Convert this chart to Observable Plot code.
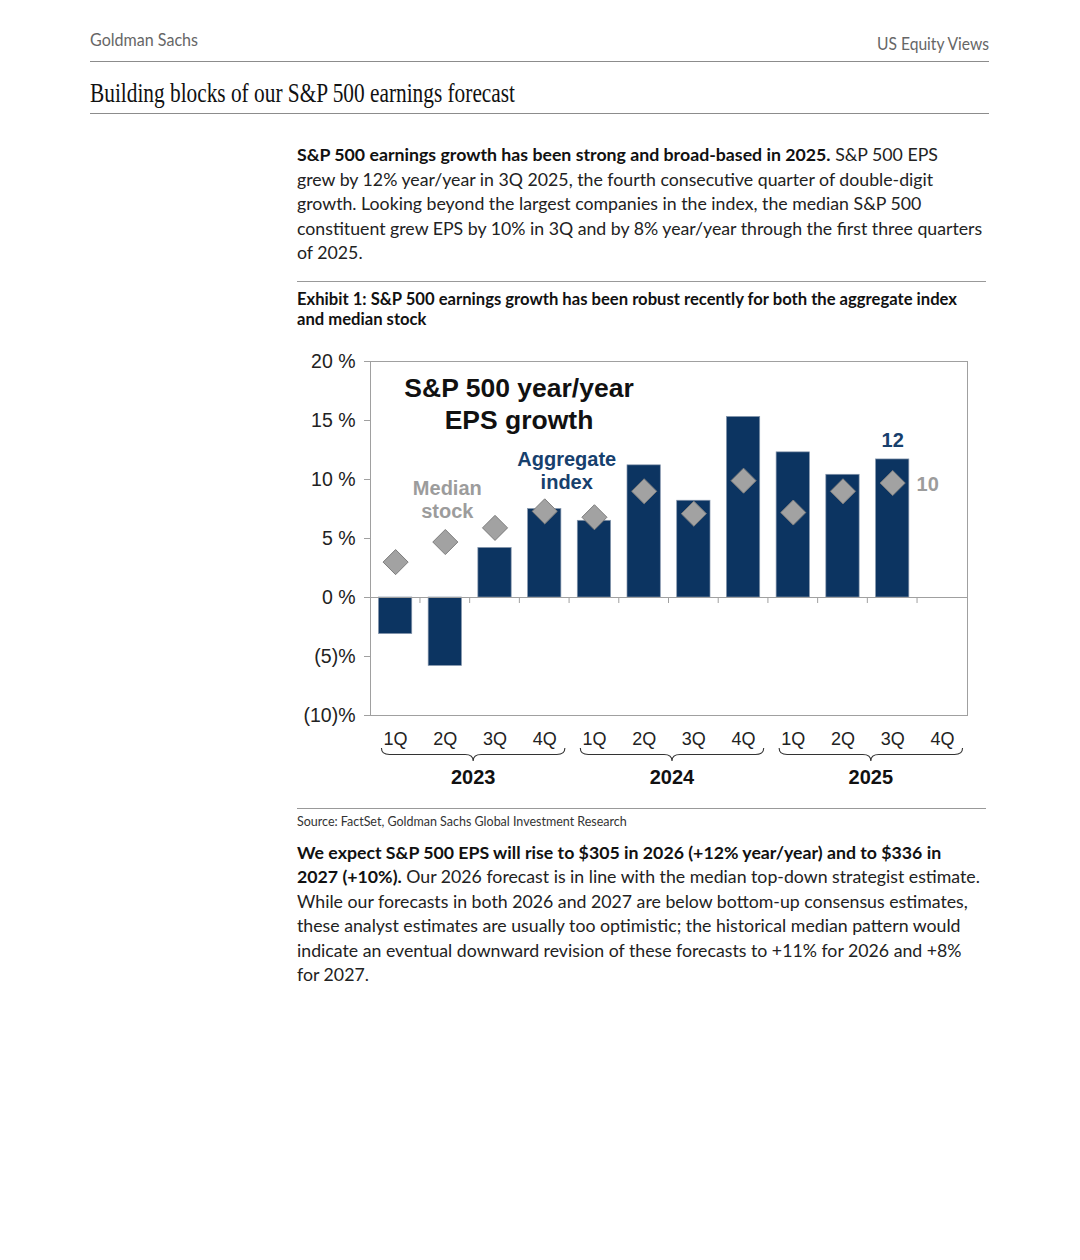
<!DOCTYPE html>
<html><head><meta charset="utf-8">
<script src="https://cdn.jsdelivr.net/npm/d3@7"></script>
<script src="https://cdn.jsdelivr.net/npm/@observablehq/plot@0.6"></script>
<style>
html,body{margin:0;padding:0;background:#fff;}
body{width:1080px;height:1260px;position:relative;overflow:hidden;font-family:Lato,'Noto Sans',sans-serif;color:#222;}
.abs{position:absolute;white-space:nowrap;}
.hr{position:absolute;height:0;border-top:1px solid #8c8c8c;}
b{color:#111;font-weight:700;}
#chart{position:absolute;left:290px;top:340px;}
</style></head><body>
<div class="abs" id="brand" style="left:90px;top:31px;font-size:17px;line-height:18px;color:#666;transform-origin:left center;">Goldman Sachs</div>
<div class="abs" id="views" style="left:877px;top:35px;font-size:17px;line-height:18px;color:#666;transform-origin:left center;">US Equity Views</div>
<div class="hr" style="left:90px;width:899px;top:61px"></div>
<div class="abs" id="title" style="left:90px;top:78px;font-family:'Liberation Serif',serif;font-size:27px;line-height:30px;color:#111;transform-origin:left center;">Building blocks of our S&amp;P 500 earnings forecast</div>
<div class="hr" style="left:90px;width:899px;top:113px"></div>

<div class="abs para" id="p1" style="left:297px;top:143px;line-height:24.5px;font-size:16px;">
<b>S&amp;P 500 earnings growth has been strong and broad-based in 2025.</b> S&amp;P 500 EPS<br>
grew by 12% year/year in 3Q 2025, the fourth consecutive quarter of double-digit<br>
growth. Looking beyond the largest companies in the index, the median S&amp;P 500<br>
<span id="fitline">constituent grew EPS by 10% in 3Q and by 8% year/year through the first three quarters</span><br>
of 2025.
</div>
<div class="hr" style="left:297px;width:689px;top:281px;border-color:#999"></div>
<div class="abs" id="exhibit" style="left:297px;top:289px;line-height:20px;font-size:15px;"><b><span id="exfit">Exhibit 1: S&amp;P 500 earnings growth has been robust recently for both the aggregate index</span><br>and median stock</b></div>

<div id="chart"></div>

<div class="hr" style="left:297px;width:689px;top:808px;border-color:#999"></div>
<div class="abs" id="source" style="left:297px;top:814px;line-height:16px;font-size:12px;color:#333;">Source: FactSet, Goldman Sachs Global Investment Research</div>

<div class="abs para" id="p2" style="left:297px;top:841px;line-height:24.4px;font-size:16px;">
<b>We expect S&amp;P 500 EPS will rise to $305 in 2026 (+12% year/year) and to $336 in</b><br>
<b>2027 (+10%).</b> Our 2026 forecast is in line with the median top-down strategist estimate.<br>
While our forecasts in both 2026 and 2027 are below bottom-up consensus estimates,<br>
these analyst estimates are usually too optimistic; the historical median pattern would<br>
indicate an eventual downward revision of these forecasts to +11% for 2026 and +8%<br>
for 2027.
</div>

<script>
// ---------- data ----------
const quarters = ["1Q", "2Q", "3Q", "4Q"];
const years = ["2023", "2024", "2025"];
const periods = years.flatMap(y => quarters.map(q => `${q} ${y}`));
// S&P 500 aggregate index EPS growth, year/year (%), 4Q 2025 not yet reported
const aggregate = [-3.1, -5.8, 4.2, 7.5, 6.5, 11.2, 8.2, 15.3, 12.3, 10.4, 11.7, null];
// Median S&P 500 stock EPS growth, year/year (%)
const median = [3.0, 4.7, 5.9, 7.3, 6.8, 9.0, 7.1, 9.9, 7.2, 9.0, 9.7, null];
const yTicks = [-10, -5, 0, 5, 10, 15, 20];

// ---------- text fitting ----------
function fitScale(id, target) {
  const el = document.getElementById(id);
  const w = el.getBoundingClientRect().width;
  el.style.transform = `scaleX(${target / w})`;
}
function fitFont(spanId, target, ids) {
  const s = document.getElementById(spanId);
  const w = s.getBoundingClientRect().width;
  const fs = parseFloat(getComputedStyle(s).fontSize);
  const nf = fs * target / w;
  ids.forEach(id => document.getElementById(id).style.fontSize = nf + "px");
}
fitScale("brand", 108);
fitScale("views", 112);
fitScale("title", 425);
fitFont("fitline", 686, ["p1", "p2"]);
fitFont("exfit", 661, ["exhibit"]);
(function(){
  const el = document.getElementById("source");
  const w = el.getBoundingClientRect().width;
  el.style.fontSize = (12 * 330 / w) + "px";
})();

// ---------- chart ----------
const aggData = periods.map((p, i) => ({period: p, value: aggregate[i]})).filter(d => d.value != null);
const medData = periods.map((p, i) => ({period: p, value: median[i]})).filter(d => d.value != null);
const lastAgg = aggData[aggData.length - 1];
const lastMed = medData[medData.length - 1];
const fmtY = v => v < 0 ? `(${-v})%` : `${v} %`;
const navy = "#0c3461";
const grey = "#9c9c9c";

const plot = Plot.plot({
  width: 700,
  height: 460,
  marginLeft: 80,
  marginRight: 23,
  marginTop: 21,
  marginBottom: 85,
  style: {fontFamily: "'Liberation Sans', Arial, Helvetica, sans-serif", color: "#222", background: "#fff"},
  x: {type: "band", domain: periods, paddingInner: 0.33, paddingOuter: 0.17, round: false, axis: null},
  y: {domain: [-10, 20], axis: null},
  marks: [
    Plot.frame({stroke: "#a0a0a0"}),
    Plot.barY(aggData, {x: "period", y: "value", fill: navy, stroke: "#8797ad", strokeWidth: 0.7}),
    Plot.ruleY([0], {stroke: "#a0a0a0"}),
    Plot.dot(medData, {x: "period", y: "value", symbol: "diamond2", r: 11.3, fill: "#a2a2a2", stroke: "#7d7d7d", strokeWidth: 1}),
    Plot.axisY({ticks: yTicks, tickSize: 6, tickPadding: 9, tickFormat: fmtY, fontSize: 19.5, stroke: "#a0a0a0", fill: "#222", label: null}),
    Plot.axisX({tickSize: 0, tickPadding: 17, tickFormat: d => d.split(" ")[0], fontSize: 18, fill: "#222", label: null}),
    Plot.text(["S&P 500 year/year\nEPS growth"], {x: () => "3Q 2023", y: () => 16.5, dx: 24, text: d => d, fontSize: 26.5, fontWeight: "bold", fill: "#111", lineHeight: 1.22}),
    Plot.text(["Aggregate\nindex"], {x: () => "4Q 2023", y: () => 10.8, dx: 22, text: d => d, fontSize: 20, fontWeight: "bold", fill: "#17406d", lineHeight: 1.15}),
    Plot.text(["Median\nstock"], {x: () => "2Q 2023", y: () => 8.35, dx: 2, text: d => d, fontSize: 20, fontWeight: "bold", fill: grey, lineHeight: 1.15}),
    Plot.text([lastAgg], {x: "period", y: "value", dy: -19, text: d => Math.round(d.value), fontSize: 20, fontWeight: "bold", fill: "#17406d"}),
    Plot.text([lastMed], {x: "period", y: "value", dx: 35, dy: 2, text: d => Math.round(d.value), fontSize: 20, fontWeight: "bold", fill: grey})
  ]
});
document.getElementById("chart").appendChild(plot);

// boundary ticks, year braces and year labels from the plot's own scales
const xs = plot.scale("x"), ys = plot.scale("y");
const svg = d3.select(plot);
const bw = xs.bandwidth, step = xs.step;
const y0 = ys.apply(0), yBottom = ys.apply(-10);
const g = svg.append("g");
periods.slice(1).forEach(p => {
  const bx = xs.apply(p) - (step - bw) / 2;
  g.append("line").attr("x1", bx).attr("x2", bx).attr("y1", y0).attr("y2", y0 + 6)
    .attr("stroke", "#a0a0a0");
});
years.forEach(yr => {
  const x0 = xs.apply(`1Q ${yr}`) + 3;
  const x1 = xs.apply(`4Q ${yr}`) + bw + 4;
  const xm = (x0 + x1) / 2;
  const top = yBottom + 33, h = 13, mid = top + h / 2, q = 8;
  const d = `M${x0},${top} Q${x0},${mid} ${x0 + q},${mid} L${xm - q},${mid} Q${xm},${mid} ${xm},${top + h} ` +
            `Q${xm},${mid} ${xm + q},${mid} L${x1 - q},${mid} Q${x1},${mid} ${x1},${top}`;
  g.append("path").attr("d", d).attr("fill", "none").attr("stroke", "#333").attr("stroke-width", 1.1);
  g.append("text").attr("x", xm).attr("y", yBottom + 62).attr("text-anchor", "middle")
    .attr("dominant-baseline", "central").attr("font-size", 20).attr("font-weight", "bold")
    .attr("fill", "#111").text(yr);
});
</script>
</body></html>
